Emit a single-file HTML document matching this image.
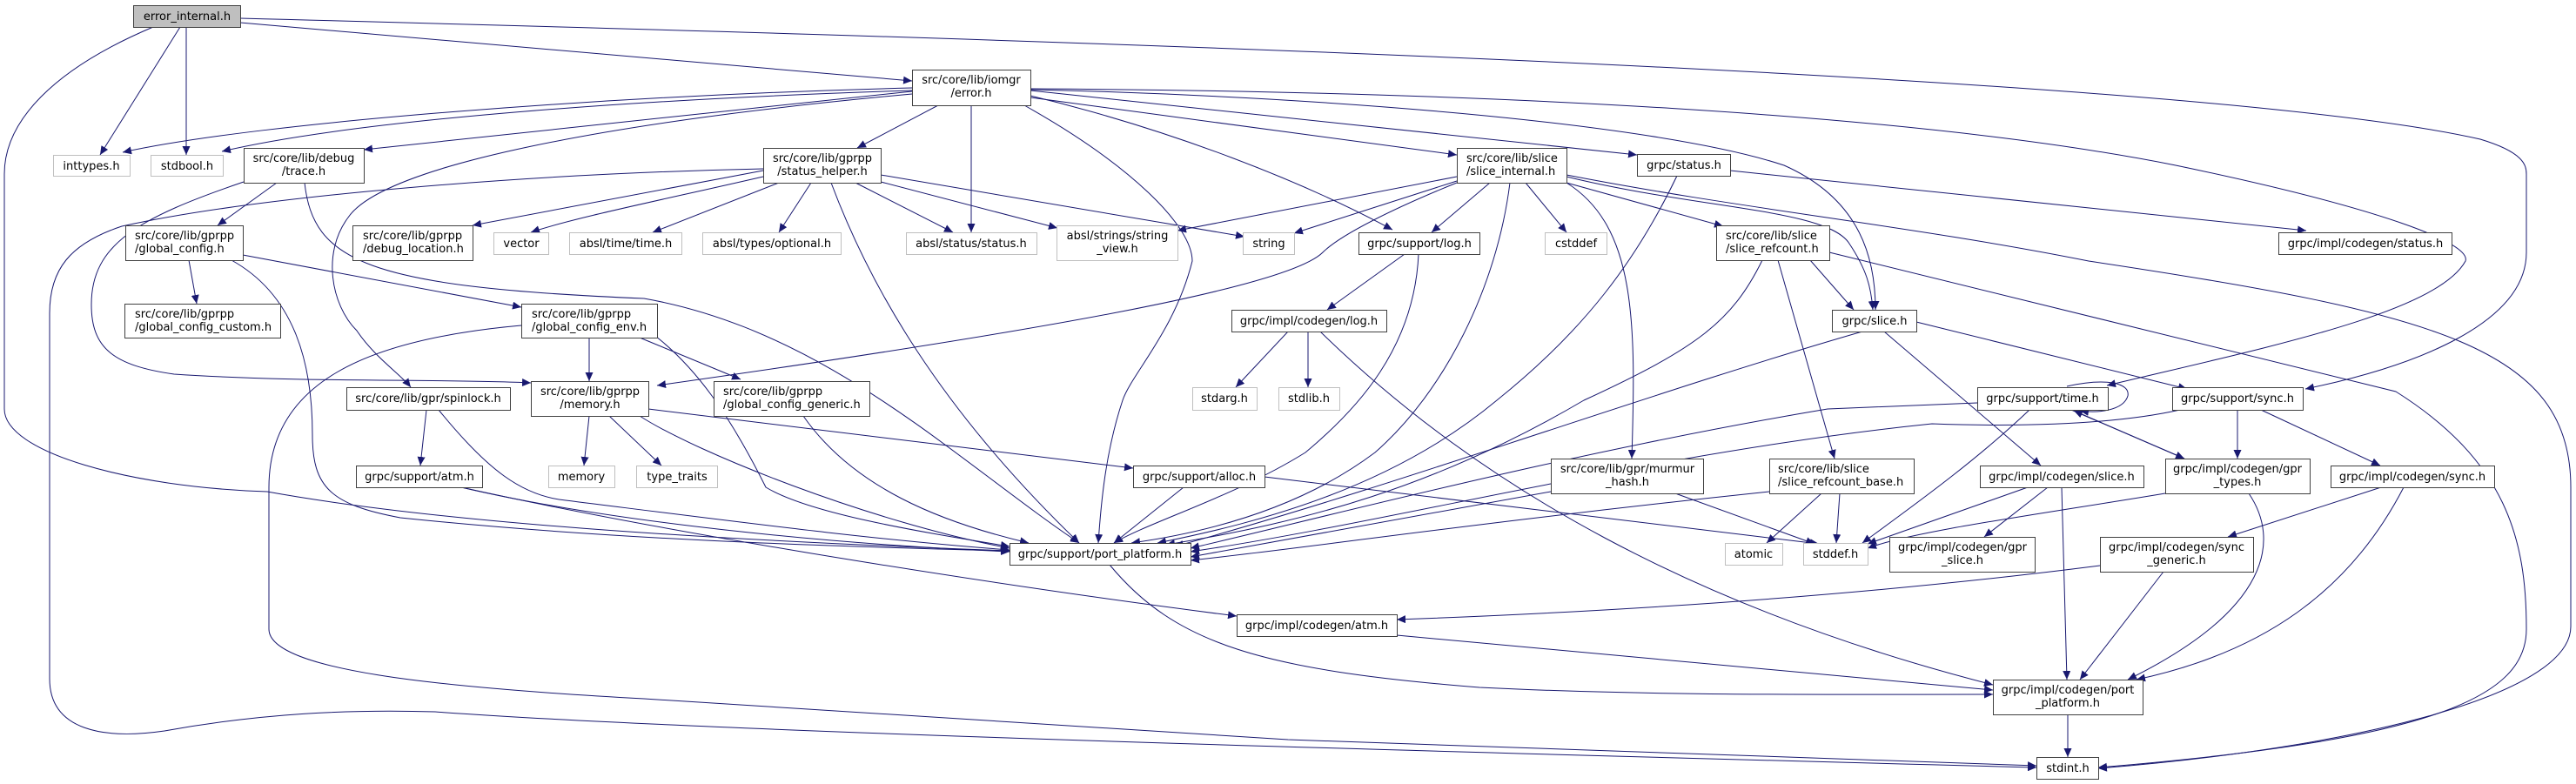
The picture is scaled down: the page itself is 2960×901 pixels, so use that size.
<!DOCTYPE html>
<html><head><meta charset="utf-8"><style>
html,body{margin:0;padding:0;background:#fff;}
svg{display:block;}
text{font-family:"DejaVu Sans","Liberation Sans",sans-serif;font-size:13px;fill:#000;}
.n{fill:#fff;stroke:#404040;stroke-width:1;}
.s{fill:#fff;stroke:#bfbfbf;stroke-width:1;}
.e{fill:none;stroke:#191970;stroke-width:1;}
</style></head><body>
<svg width="2960" height="901" viewBox="0 0 2960 901" xmlns="http://www.w3.org/2000/svg">
<defs><marker id="a" markerUnits="userSpaceOnUse" markerWidth="11" markerHeight="9" refX="10" refY="4.5" orient="auto"><path d="M0,0 L10,4.5 L0,9 z" fill="#191970"/></marker></defs>
<g marker-end="url(#a)">
<!-- error_internal -->
<path class="e" d="M207,31 L115,178"/>
<path class="e" d="M214,31 L214,178"/>
<path class="e" d="M176,31 C60,80 5,140 5,200 L5,470 C5,520 150,560 307,565 C500,600 800,620 1160,633"/>
<path class="e" d="M276,26 L1048,93"/>
<path class="e" d="M276,21 C1000,40 2500,80 2850,160 C2900,175 2903,190 2903,200 L2903,290 C2903,370 2780,420 2649,447"/>
<!-- error.h -->
<path class="e" d="M1048,101 C700,110 300,140 141,175"/>
<path class="e" d="M1048,104 C700,115 400,140 255,174"/>
<path class="e" d="M1048,105 L418,172"/>
<path class="e" d="M1048,108 C700,140 440,190 400,250 C370,290 380,350 410,380 C430,410 460,430 472,445"/>
<path class="e" d="M1078,121 L985,170"/>
<path class="e" d="M1116,121 L1116,267"/>
<path class="e" d="M1177,121 C1300,190 1370,260 1370,300 C1350,380 1300,430 1290,460 C1270,520 1265,580 1262,624"/>
<path class="e" d="M1184,110 C1350,150 1500,210 1600,264"/>
<path class="e" d="M1184,112 L1674,178"/>
<path class="e" d="M1184,104 L1881,178"/>
<path class="e" d="M1184,103 C1500,110 1900,140 2050,190 C2140,230 2155,300 2155,356"/>
<path class="e" d="M1184,102 C1700,105 2200,130 2500,190 C2740,240 2840,280 2833,300 C2800,360 2600,400 2421,443"/>
<!-- status_helper -->
<path class="e" d="M877,196 L543,259"/>
<path class="e" d="M877,203 C760,230 660,250 610,267"/>
<path class="e" d="M895,210 L750,267"/>
<path class="e" d="M932,210 L895,267"/>
<path class="e" d="M983,210 L1095,267"/>
<path class="e" d="M1012,209 L1215,262"/>
<path class="e" d="M1012,201 L1430,272"/>
<path class="e" d="M955,210 C1000,330 1080,470 1240,624"/>
<path class="e" d="M877,194 C600,200 300,225 140,260 C80,280 57,310 57,360 L57,780 C57,840 120,850 189,840 C300,820 400,815 500,818 C800,840 1500,860 2340,882"/>
<!-- trace.h -->
<path class="e" d="M318,210 L250,259"/>
<path class="e" d="M280,209 C160,250 105,280 105,350 C105,400 130,420 200,430 C350,440 500,435 610,440"/>
<path class="e" d="M350,210 C360,300 420,330 740,343 C950,380 1100,530 1240,624"/>
<!-- global_config -->
<path class="e" d="M217,299 L226,349"/>
<path class="e" d="M279,293 L599,353"/>
<path class="e" d="M266,299 C340,340 359,420 359,500 C359,560 380,580 460,595 C700,620 950,628 1160,633"/>
<!-- global_config_env -->
<path class="e" d="M677,388 L677,438"/>
<path class="e" d="M735,388 L851,436"/>
<path class="e" d="M599,374 C420,390 309,440 309,560 L309,723 C309,770 500,790 740,803 L1480,850 L2340,880"/>
<path class="e" d="M745,380 C800,420 840,480 880,560 C930,590 1050,610 1160,628"/>
<!-- memory.h -->
<path class="e" d="M677,478 L671,535"/>
<path class="e" d="M700,478 L760,535"/>
<path class="e" d="M745,470 L1302,538"/>
<path class="e" d="M735,478 C800,520 1000,600 1160,630"/>
<!-- spinlock / atm -->
<path class="e" d="M490,471 L483,535"/>
<path class="e" d="M504,471 C560,540 600,570 650,575 C850,600 1000,620 1160,632"/>
<path class="e" d="M530,560 C700,600 950,625 1160,634"/>
<path class="e" d="M530,560 C800,620 1200,680 1421,708"/>
<!-- generic -->
<path class="e" d="M923,478 C980,560 1080,600 1182,624"/>
<!-- grpc/support/log.h -->
<path class="e" d="M1614,292 L1525,356"/>
<path class="e" d="M1630,292 C1625,400 1560,470 1500,520 C1420,570 1320,600 1280,624"/>
<!-- codegen/log.h -->
<path class="e" d="M1480,381 L1420,445"/>
<path class="e" d="M1503,381 L1503,445"/>
<path class="e" d="M1517,381 C1700,560 1950,700 2290,787"/>
<!-- slice_internal -->
<path class="e" d="M1674,203 L1353,265"/>
<path class="e" d="M1674,208 L1487,268"/>
<path class="e" d="M1674,210 C1600,240 1540,270 1520,290 C1480,330 1200,380 755,443"/>
<path class="e" d="M1712,210 L1645,267"/>
<path class="e" d="M1753,210 L1800,267"/>
<path class="e" d="M1735,210 C1720,330 1660,450 1580,520 C1500,580 1400,610 1300,624"/>
<path class="e" d="M1800,210 C1880,260 1880,370 1875,527"/>
<path class="e" d="M1800,210 L1980,260"/>
<path class="e" d="M1800,203 C1950,240 2100,240 2125,280 C2145,310 2150,330 2152,356"/>
<path class="e" d="M1800,201 C2000,240 2200,260 2400,300 C2800,360 2954,400 2954,560 L2954,720 C2954,800 2700,860 2411,883"/>
<!-- grpc/status.h -->
<path class="e" d="M1988,196 L2650,265"/>
<path class="e" d="M1927,202 C1880,300 1820,380 1720,460 C1600,560 1450,600 1330,624"/>
<!-- slice_refcount -->
<path class="e" d="M2080,299 L2130,356"/>
<path class="e" d="M2043,299 L2108,527"/>
<path class="e" d="M2025,299 C1990,370 1950,400 1820,460 C1650,560 1500,600 1340,626"/>
<path class="e" d="M2102,290 L2753,450 C2880,530 2903,620 2903,723 C2903,800 2800,850 2411,882"/>
<!-- grpc/slice.h -->
<path class="e" d="M2202,370 L2513,447"/>
<path class="e" d="M2165,381 L2345,535"/>
<path class="e" d="M2140,381 C1900,450 1600,560 1350,628"/>
<!-- time.h -->
<path class="e" d="M2380,471 L2510,527"/>
<path class="e" d="M2332,471 C2270,530 2200,580 2140,624"/>
<path class="e" d="M2272,463 L2100,470 C1800,520 1500,600 1368,630"/>
<path class="e" d="M2375,444 C2420,434 2448,440 2445,455 C2440,472 2410,475 2390,472"/>
<!-- sync.h -->
<path class="e" d="M2571,471 L2571,527"/>
<path class="e" d="M2598,471 L2735,535"/>
<path class="e" d="M2505,471 C2420,490 2300,490 2220,487 C1900,520 1600,600 1368,634"/>
<!-- codegen slice -->
<path class="e" d="M2353,560 L2280,617"/>
<path class="e" d="M2369,560 L2375,781"/>
<path class="e" d="M2330,560 L2146,625"/>
<!-- gpr_types -->
<path class="e" d="M2488,567 C2350,590 2200,610 2146,630"/>
<path class="e" d="M2584,567 C2620,620 2610,700 2445,781"/>
<path class="e" d="M2510,527 L2383,472"/>
<!-- codegen sync -->
<path class="e" d="M2736,560 L2560,617"/>
<path class="e" d="M2762,560 C2700,680 2600,750 2455,781"/>
<!-- sync_generic -->
<path class="e" d="M2413,650 C2100,690 1800,705 1605,712"/>
<path class="e" d="M2486,657 L2390,781"/>
<!-- codegen atm -->
<path class="e" d="M1605,730 L2290,793"/>
<!-- PP -->
<path class="e" d="M1275,649 C1350,740 1450,770 1700,790 C1900,800 2100,798 2290,798"/>
<path class="e" d="M2376,821 L2376,870"/>
<!-- murmur / refcount_base / alloc -->
<path class="e" d="M1925,567 L2085,625"/>
<path class="e" d="M1782,565 L1368,640"/>
<path class="e" d="M2093,567 L2030,624"/>
<path class="e" d="M2114,567 L2110,624"/>
<path class="e" d="M2033,565 C1700,600 1500,630 1368,644"/>
<path class="e" d="M1360,560 L1280,624"/>
<path class="e" d="M1453,548 L2090,625"/>
</g>
<!-- nodes -->
<rect x="153.5" y="6.5" width="123" height="25" fill="#bfbfbf" stroke="#404040"/><text x="215" y="23" text-anchor="middle">error_internal.h</text>
<rect class="s" x="61.5" y="178.5" width="88" height="24"/><text x="105" y="195" text-anchor="middle">inttypes.h</text>
<rect class="s" x="173.5" y="178.5" width="83" height="24"/><text x="215" y="195" text-anchor="middle">stdbool.h</text>
<rect class="n" x="280.5" y="170.5" width="138" height="40"/><text x="349" y="186" text-anchor="middle">src/core/lib/debug</text><text x="349" y="201" text-anchor="middle">/trace.h</text>
<rect class="n" x="144.5" y="259.5" width="135" height="40"/><text x="155" y="275">src/core/lib/gprpp</text><text x="155" y="290">/global_config.h</text>
<rect class="n" x="143.5" y="349.5" width="179" height="39"/><text x="155" y="365">src/core/lib/gprpp</text><text x="155" y="380">/global_config_custom.h</text>
<rect class="n" x="405.5" y="259.5" width="138" height="40"/><text x="417" y="275">src/core/lib/gprpp</text><text x="417" y="290">/debug_location.h</text>
<rect class="s" x="567.5" y="267.5" width="63" height="25"/><text x="599" y="284" text-anchor="middle">vector</text>
<rect class="s" x="654.5" y="267.5" width="129" height="25"/><text x="719" y="284" text-anchor="middle">absl/time/time.h</text>
<rect class="n" x="877.5" y="170.5" width="135" height="40"/><text x="945" y="186" text-anchor="middle">src/core/lib/gprpp</text><text x="945" y="201" text-anchor="middle">/status_helper.h</text>
<rect class="s" x="807.5" y="267.5" width="159" height="25"/><text x="887" y="284" text-anchor="middle">absl/types/optional.h</text>
<rect class="s" x="1041.5" y="267.5" width="150" height="25"/><text x="1116" y="284" text-anchor="middle">absl/status/status.h</text>
<rect class="s" x="1214.5" y="259.5" width="139" height="40"/><text x="1284" y="275" text-anchor="middle">absl/strings/string</text><text x="1284" y="290" text-anchor="middle">_view.h</text>
<rect class="s" x="1428.5" y="267.5" width="59" height="25"/><text x="1458" y="284" text-anchor="middle">string</text>
<rect class="n" x="1048.5" y="80.5" width="136" height="41"/><text x="1116" y="96" text-anchor="middle">src/core/lib/iomgr</text><text x="1116" y="111" text-anchor="middle">/error.h</text>
<rect class="n" x="1674.5" y="170.5" width="126" height="40"/><text x="1685" y="186">src/core/lib/slice</text><text x="1685" y="201">/slice_internal.h</text>
<rect class="n" x="1881.5" y="177.5" width="107" height="25"/><text x="1935" y="194" text-anchor="middle">grpc/status.h</text>
<rect class="n" x="1561.5" y="267.5" width="139" height="25"/><text x="1631" y="284" text-anchor="middle">grpc/support/log.h</text>
<rect class="s" x="1775.5" y="267.5" width="71" height="25"/><text x="1811" y="284" text-anchor="middle">cstddef</text>
<rect class="n" x="1972.5" y="259.5" width="130" height="40"/><text x="1983" y="275">src/core/lib/slice</text><text x="1983" y="290">/slice_refcount.h</text>
<rect class="n" x="2618.5" y="267.5" width="199" height="25"/><text x="2718" y="284" text-anchor="middle">grpc/impl/codegen/status.h</text>
<rect class="n" x="1415.5" y="356.5" width="178" height="25"/><text x="1504" y="373" text-anchor="middle">grpc/impl/codegen/log.h</text>
<rect class="n" x="2105.5" y="356.5" width="97" height="25"/><text x="2154" y="373" text-anchor="middle">grpc/slice.h</text>
<rect class="n" x="599.5" y="349.5" width="156" height="39"/><text x="611" y="365">src/core/lib/gprpp</text><text x="611" y="380">/global_config_env.h</text>
<rect class="n" x="610.5" y="438.5" width="135" height="40"/><text x="678" y="454" text-anchor="middle">src/core/lib/gprpp</text><text x="678" y="469" text-anchor="middle">/memory.h</text>
<rect class="n" x="820.5" y="438.5" width="179" height="40"/><text x="831" y="454">src/core/lib/gprpp</text><text x="831" y="469">/global_config_generic.h</text>
<rect class="n" x="398.5" y="445.5" width="188" height="26"/><text x="492" y="462" text-anchor="middle">src/core/lib/gpr/spinlock.h</text>
<rect class="s" x="1370.5" y="445.5" width="74" height="26"/><text x="1407" y="462" text-anchor="middle">stdarg.h</text>
<rect class="s" x="1469.5" y="445.5" width="70" height="26"/><text x="1504" y="462" text-anchor="middle">stdlib.h</text>
<rect class="n" x="2272.5" y="445.5" width="150" height="26"/><text x="2347" y="462" text-anchor="middle">grpc/support/time.h</text>
<rect class="n" x="2496.5" y="445.5" width="150" height="26"/><text x="2571" y="462" text-anchor="middle">grpc/support/sync.h</text>
<rect class="n" x="409.5" y="535.5" width="145" height="25"/><text x="482" y="552" text-anchor="middle">grpc/support/atm.h</text>
<rect class="s" x="630.5" y="535.5" width="76" height="25"/><text x="668" y="552" text-anchor="middle">memory</text>
<rect class="s" x="731.5" y="535.5" width="93" height="25"/><text x="778" y="552" text-anchor="middle">type_traits</text>
<rect class="n" x="1302.5" y="535.5" width="151" height="25"/><text x="1378" y="552" text-anchor="middle">grpc/support/alloc.h</text>
<rect class="n" x="1782.5" y="527.5" width="175" height="40"/><text x="1870" y="543" text-anchor="middle">src/core/lib/gpr/murmur</text><text x="1870" y="558" text-anchor="middle">_hash.h</text>
<rect class="n" x="2033.5" y="527.5" width="166" height="40"/><text x="2043" y="543">src/core/lib/slice</text><text x="2043" y="558">/slice_refcount_base.h</text>
<rect class="n" x="2275.5" y="535.5" width="188" height="25"/><text x="2369" y="552" text-anchor="middle">grpc/impl/codegen/slice.h</text>
<rect class="n" x="2488.5" y="527.5" width="166" height="40"/><text x="2571" y="543" text-anchor="middle">grpc/impl/codegen/gpr</text><text x="2571" y="558" text-anchor="middle">_types.h</text>
<rect class="n" x="2678.5" y="535.5" width="188" height="25"/><text x="2772" y="552" text-anchor="middle">grpc/impl/codegen/sync.h</text>
<rect class="n" x="1160.5" y="624.5" width="208" height="25"/><text x="1264" y="641" text-anchor="middle">grpc/support/port_platform.h</text>
<rect class="s" x="1982.5" y="624.5" width="66" height="25"/><text x="2015" y="641" text-anchor="middle">atomic</text>
<rect class="s" x="2072.5" y="624.5" width="74" height="25"/><text x="2109" y="641" text-anchor="middle">stddef.h</text>
<rect class="n" x="2171.5" y="617.5" width="167" height="40"/><text x="2255" y="633" text-anchor="middle">grpc/impl/codegen/gpr</text><text x="2255" y="648" text-anchor="middle">_slice.h</text>
<rect class="n" x="2413.5" y="617.5" width="176" height="40"/><text x="2501" y="633" text-anchor="middle">grpc/impl/codegen/sync</text><text x="2501" y="648" text-anchor="middle">_generic.h</text>
<rect class="n" x="1421.5" y="706.5" width="184" height="25"/><text x="1513" y="723" text-anchor="middle">grpc/impl/codegen/atm.h</text>
<rect class="n" x="2290.5" y="781.5" width="172" height="40"/><text x="2376" y="797" text-anchor="middle">grpc/impl/codegen/port</text><text x="2376" y="812" text-anchor="middle">_platform.h</text>
<rect class="n" x="2340.5" y="870.5" width="71" height="25"/><text x="2376" y="887" text-anchor="middle">stdint.h</text>
</svg>
</body></html>
